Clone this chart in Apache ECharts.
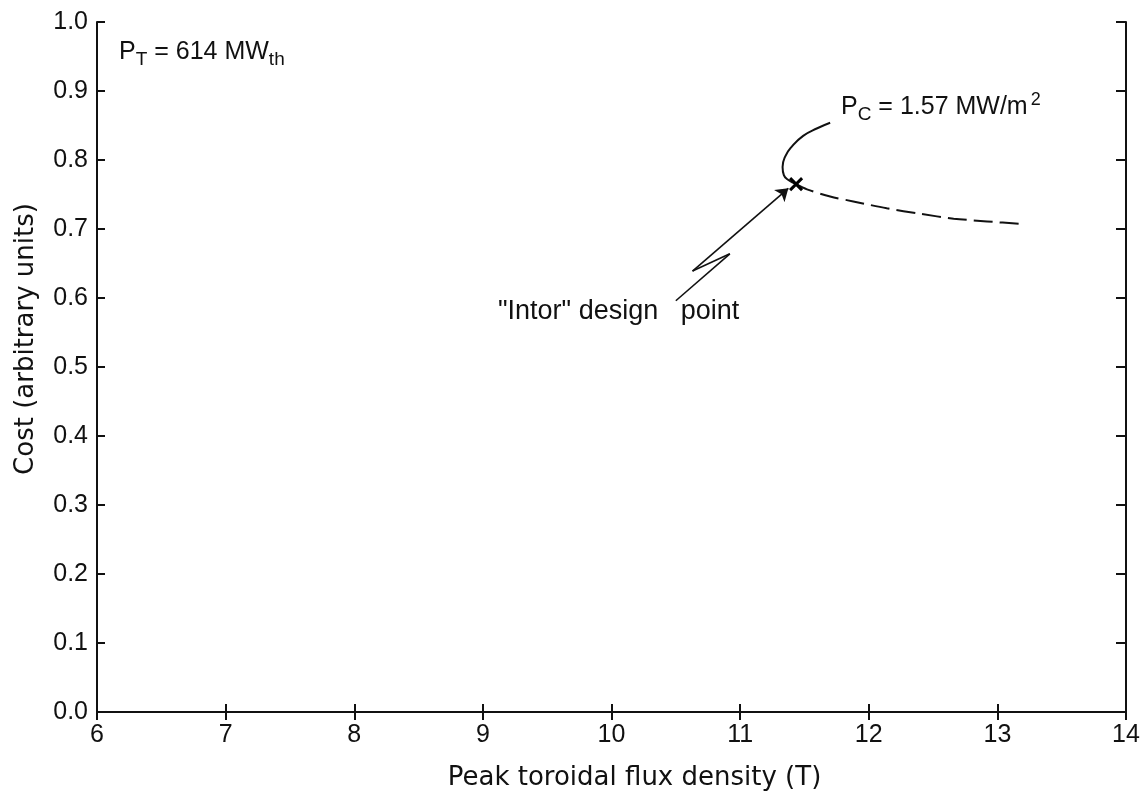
<!DOCTYPE html>
<html>
<head>
<meta charset="utf-8">
<title>Cost vs peak toroidal flux density</title>
<script src="https://cdn.jsdelivr.net/npm/echarts@6/dist/echarts.min.js"></script>
<style>
  html, body { margin: 0; padding: 0; background: #fff; }
  #chart { width: 1146px; height: 800px; }
</style>
</head>
<body>
<div id="chart"></div>
<script>
// axis ticks
var xTicks = [6, 7, 8, 9, 10, 11, 12, 13, 14]
var yTicks = [0, 0.1, 0.2, 0.3, 0.4, 0.5, 0.6, 0.7, 0.8, 0.9, 1.0]

// Pc = 1.57 MW/m2 curve (solid part, from label down to the design point)
var solidX = [11.70, 11.60, 11.49, 11.40, 11.35, 11.33, 11.34, 11.375, 11.435]
var solidY = [0.854, 0.846, 0.835, 0.819, 0.805, 0.790, 0.778, 0.771, 0.765]

// dashed continuation
var dashX = [11.435, 11.52, 11.70, 11.88, 12.14, 12.40, 12.66, 12.92, 13.20]
var dashY = [0.765, 0.7575, 0.747, 0.740, 0.730, 0.722, 0.715, 0.711, 0.707]

// "Intor" design point
var designPoint = [11.435, 0.765]

// zigzag pointer to the design point
var arrowX = [10.50, 10.92, 10.63, 11.375]
var arrowY = [0.596, 0.664, 0.639, 0.759]

var ink = '#111'
var fontFam = 'Liberation Sans, Arial, sans-serif'
var nameFam = 'DejaVu Sans, sans-serif'

function pairs(xs, ys){
  var out = []
  for (var i = 0; i < xs.length; i++) out.push([xs[i], ys[i]])
  return out
}

var arrowPts = pairs(arrowX, arrowY)

var chart = echarts.init(document.getElementById('chart'))
var option = {
  backgroundColor: '#fff',
  animation: false,
  textStyle: { fontFamily: fontFam, color: ink },
  grid: { left: 97, right: 20, top: 22, bottom: 88, containLabel: false },
  xAxis: [{
    type: 'value',
    min: xTicks[0], max: xTicks[xTicks.length - 1], interval: 1,
    name: 'Peak toroidal flux density (T)',
    nameLocation: 'middle', nameGap: 53,
    nameTextStyle: { fontSize: 26, fontFamily: nameFam, color: ink, padding: [0, 0, 0, 46] },
    axisLine: { lineStyle: { color: ink, width: 2 } },
    axisTick: { inside: true, length: 8, lineStyle: { color: ink, width: 2 } },
    axisLabel: { fontSize: 25, color: ink, margin: 11 },
    splitLine: { show: false }
  }, {
    type: 'value', position: 'top',
    min: xTicks[0], max: xTicks[xTicks.length - 1], interval: 1,
    axisLine: { lineStyle: { color: ink, width: 2 } },
    axisTick: { inside: true, length: 8, lineStyle: { color: ink, width: 2 } },
    axisLabel: { show: false },
    splitLine: { show: false }
  }],
  yAxis: [{
    type: 'value',
    min: yTicks[0], max: yTicks[yTicks.length - 1], interval: 0.1,
    name: 'Cost (arbitrary units)',
    nameLocation: 'middle', nameGap: 58,
    nameTextStyle: { fontSize: 26, fontFamily: nameFam, color: ink, padding: [0, 0, 0, 56] },
    axisLine: { lineStyle: { color: ink, width: 2 } },
    axisTick: { inside: true, length: 8, lineStyle: { color: ink, width: 2 } },
    axisLabel: { fontSize: 25, color: ink, margin: 9, formatter: function(v){ return v.toFixed(1) } },
    splitLine: { show: false }
  }, {
    type: 'value', position: 'right',
    min: yTicks[0], max: yTicks[yTicks.length - 1], interval: 0.1,
    axisLine: { lineStyle: { color: ink, width: 2 } },
    axisTick: { inside: true, length: 10, lineStyle: { color: ink, width: 2 } },
    axisLabel: { show: false },
    splitLine: { show: false }
  }],
  series: [{
    name: 'Pc solid',
    type: 'line',
    data: pairs(solidX, solidY),
    smooth: 0.5,
    symbol: 'none',
    lineStyle: { color: ink, width: 2 }
  }, {
    name: 'Pc dashed',
    type: 'line',
    data: pairs(dashX, dashY),
    smooth: 0.3,
    symbol: 'none',
    lineStyle: { color: ink, width: 2, type: [19, 7] }
  }, {
    name: 'design point',
    type: 'scatter',
    data: [designPoint],
    symbol: 'path://M0,0L10,10M10,0L0,10',
    symbolSize: 12,
    itemStyle: { color: 'none', borderColor: '#000', borderWidth: 3, opacity: 1 },
    z: 5
  }, {
    name: 'pointer',
    type: 'lines',
    coordinateSystem: 'cartesian2d',
    symbol: 'none',
    lineStyle: { color: ink, width: 1.6, opacity: 1 },
    data: [
      { coords: [arrowPts[0], arrowPts[1]] },
      { coords: [arrowPts[1], arrowPts[2]] }
    ]
  }, {
    name: 'pointer head',
    type: 'lines',
    coordinateSystem: 'cartesian2d',
    symbol: ['none', 'arrow'],
    symbolSize: 12,
    lineStyle: { color: ink, width: 1.6, opacity: 1 },
    data: [
      { coords: [arrowPts[2], arrowPts[3]] }
    ]
  }],
  graphic: [{
    type: 'text',
    left: 119, top: 40,
    style: {
      text: 'P{sub|T} = 614 MW{sub|th}',
      fontSize: 25, fontFamily: fontFam, fill: ink,
      rich: {
        sub: { fontSize: 19, fontFamily: fontFam, verticalAlign: 'bottom', padding: [14, 0, 0, 0], fill: ink }
      }
    }
  }, {
    type: 'text',
    left: 841, top: 91,
    style: {
      text: 'P{sub|C} = 1.57 MW/m{sup|2}',
      fontSize: 25, fontFamily: fontFam, fill: ink,
      rich: {
        sub: { fontSize: 19, fontFamily: fontFam, verticalAlign: 'bottom', padding: [14, 0, 0, 0], fill: ink },
        sup: { fontSize: 18, fontFamily: fontFam, verticalAlign: 'top', padding: [0, 0, 12, 3], fill: ink }
      }
    }
  }, {
    type: 'text',
    left: 498, top: 298,
    style: {
      text: '"Intor" design   point',
      fontSize: 27, fontFamily: fontFam, fill: ink
    }
  }]
}
chart.setOption(option)
</script>
</body>
</html>
